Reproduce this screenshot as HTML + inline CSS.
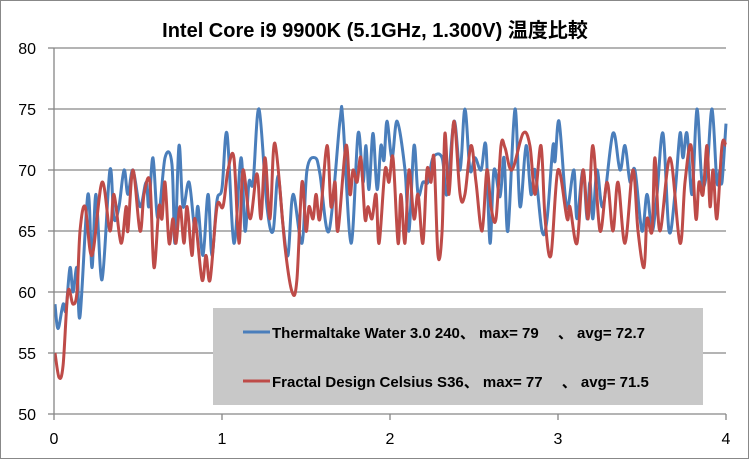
<!DOCTYPE html>
<html><head><meta charset="utf-8">
<style>
html,body{margin:0;padding:0;background:#fff;}
svg{display:block;font-family:"Liberation Sans","Noto Sans CJK JP",sans-serif;}
</style></head>
<body>
<svg id="chart" width="749" height="459" viewBox="0 0 749 459" xmlns="http://www.w3.org/2000/svg">
<rect x="0.5" y="0.5" width="748" height="458" fill="#fff" stroke="#888" stroke-width="1"/>
<text x="375" y="37" text-anchor="middle" font-size="20" font-weight="bold" fill="#000">Intel Core i9 9900K (5.1GHz, 1.300V) 温度比較</text>
<g id="grid"></g>
<g id="series"></g>
<g id="axes"></g>
<g>
<rect x="213" y="308" width="490" height="97" fill="#c8c8c8"/>
<line x1="243" y1="332" x2="270" y2="332" stroke="#4a7ebb" stroke-width="3"/>
<text x="272" y="338" font-size="15" font-weight="bold" fill="#000">Thermaltake Water 3.0 240、 max= 79 　、 avg= 72.7</text>
<line x1="243" y1="381" x2="270" y2="381" stroke="#be4b48" stroke-width="3"/>
<text x="272" y="387" font-size="15" font-weight="bold" fill="#000">Fractal Design Celsius S36、 max= 77 　、 avg= 71.5</text>
</g>
</svg>
<script>
const yTicks = [50,55,60,65,70,75,80];
const xTicks = [0,1,2,3,4];
const blueSeries = [[0.006,59],[0.024,57],[0.054,59],[0.071,58.5],[0.095,62],[0.113,60],[0.137,62],[0.155,58],[0.202,68],[0.226,62],[0.25,68],[0.286,61],[0.333,70],[0.357,66],[0.387,67],[0.417,70],[0.44,68],[0.47,70],[0.512,67],[0.548,69],[0.565,67],[0.589,71],[0.619,66],[0.661,71],[0.702,70.5],[0.72,64],[0.744,72],[0.768,67],[0.804,69],[0.839,65],[0.857,67],[0.887,63],[0.917,68],[0.94,63],[0.97,67.5],[1.0,68.5],[1.03,73],[1.071,64],[1.113,71],[1.137,65],[1.161,69],[1.185,69],[1.22,75],[1.268,67],[1.304,65],[1.333,69.5],[1.363,65.5],[1.393,63],[1.423,68],[1.476,64],[1.506,70],[1.554,71],[1.583,69.7],[1.637,65],[1.702,74],[1.72,74],[1.768,64],[1.81,73],[1.839,69],[1.857,72],[1.875,68.4],[1.899,73],[1.923,68.4],[1.946,72],[1.964,70.8],[1.982,74],[2.012,71],[2.042,74],[2.089,70],[2.113,65],[2.143,72],[2.167,68],[2.196,69],[2.226,69],[2.256,71],[2.31,71],[2.339,68],[2.381,74],[2.417,70],[2.446,75],[2.476,70],[2.506,71],[2.542,70],[2.571,72],[2.595,64],[2.619,70],[2.655,67.8],[2.679,71],[2.702,65],[2.744,75],[2.774,67],[2.81,72],[2.839,68],[2.863,70],[2.905,65],[2.935,66],[2.97,72],[2.982,70.7],[3.006,74],[3.042,68],[3.06,67],[3.095,70],[3.113,66],[3.149,70],[3.173,66],[3.19,69],[3.208,66],[3.232,70],[3.268,67],[3.327,73],[3.369,70],[3.399,72],[3.429,69],[3.458,70],[3.5,65],[3.53,68],[3.56,65],[3.589,68],[3.625,73],[3.661,65],[3.696,68],[3.726,73],[3.744,71],[3.768,73],[3.798,68],[3.827,75],[3.857,69],[3.887,70],[3.917,75],[3.946,69],[3.964,70],[3.976,69],[4.0,73.8]];
const redSeries = [[0.006,55],[0.03,53],[0.054,54],[0.083,60],[0.113,59],[0.137,60],[0.155,65],[0.185,67],[0.226,63],[0.286,69],[0.333,65],[0.357,68],[0.399,64],[0.429,67],[0.44,65],[0.47,70],[0.512,65],[0.536,68],[0.571,69],[0.595,62],[0.625,67],[0.643,66],[0.661,69],[0.685,64],[0.708,66],[0.726,64],[0.75,67],[0.774,64],[0.792,67],[0.821,63],[0.839,66],[0.881,61],[0.905,63],[0.929,61],[0.97,67],[1.006,67],[1.036,70],[1.071,71],[1.101,64],[1.125,70],[1.167,66],[1.208,69.7],[1.232,66],[1.256,71],[1.286,66],[1.315,72.2],[1.375,63.7],[1.417,60],[1.446,61],[1.476,69],[1.5,65],[1.518,67],[1.542,66],[1.56,68],[1.583,66],[1.625,72],[1.649,67],[1.673,69],[1.69,65],[1.738,72],[1.762,68],[1.78,70],[1.804,69],[1.827,71],[1.851,66],[1.869,67],[1.893,66],[1.917,68],[1.935,64],[1.97,70],[1.994,69],[2.018,71],[2.048,64],[2.065,68],[2.089,64],[2.113,70],[2.143,66],[2.167,68],[2.196,64],[2.22,70],[2.244,69],[2.262,71],[2.286,63],[2.31,65],[2.327,73],[2.351,68],[2.381,74],[2.417,68],[2.446,68],[2.482,72],[2.512,69],[2.548,65],[2.577,70],[2.601,67],[2.631,66],[2.661,72],[2.685,71.8],[2.726,70],[2.792,73],[2.833,72],[2.863,68],[2.899,72],[2.923,66],[2.958,63],[3.0,70],[3.054,66],[3.071,67],[3.113,64],[3.149,70],[3.179,66],[3.208,72],[3.25,65],[3.292,69],[3.327,65],[3.357,69],[3.399,64],[3.446,70],[3.476,65],[3.512,62],[3.53,66],[3.56,65],[3.577,71],[3.607,65],[3.667,71],[3.726,64],[3.756,69],[3.792,72],[3.821,66],[3.839,69],[3.863,68],[3.887,72],[3.905,67],[3.923,70],[3.946,66],[3.976,72],[4.0,72]];

const NS = "http://www.w3.org/2000/svg";
const X0 = 54, X1 = 726, Y0 = 414, Y1 = 48;
function xScale(v){ return X0 + (v - 0) / (4 - 0) * (X1 - X0); }
function yScale(v){ return Y0 - (v - 50) / (80 - 50) * (Y0 - Y1); }

const grid = document.getElementById('grid');
const axes = document.getElementById('axes');
const seriesG = document.getElementById('series');

yTicks.forEach(function(t){
  const y = yScale(t);
  if (t > 50) {
    const l = document.createElementNS(NS,'line');
    
    
    l.setAttribute('x1', X0); l.setAttribute('x2', X1);
    l.setAttribute('y1', y); l.setAttribute('y2', y);
    l.setAttribute('stroke', '#868686'); l.setAttribute('stroke-width', '1.3');
    grid.appendChild(l);
  }
  const tk = document.createElementNS(NS,'line');
  
  
  tk.setAttribute('x1', X0 - 6); tk.setAttribute('x2', X0);
  tk.setAttribute('y1', y); tk.setAttribute('y2', y);
  tk.setAttribute('stroke', '#868686'); tk.setAttribute('stroke-width', '1.3');
  axes.appendChild(tk);
  const tx = document.createElementNS(NS,'text');
  
  
  tx.setAttribute('x', 36); tx.setAttribute('y', y + 6);
  tx.setAttribute('text-anchor', 'end');
  tx.setAttribute('font-size', '16');
  tx.textContent = t;
  axes.appendChild(tx);
});

xTicks.forEach(function(t){
  const x = xScale(t);
  const tk = document.createElementNS(NS,'line');
  
  
  tk.setAttribute('x1', x); tk.setAttribute('x2', x);
  tk.setAttribute('y1', Y0); tk.setAttribute('y2', Y0 + 6);
  tk.setAttribute('stroke', '#868686'); tk.setAttribute('stroke-width', '1.3');
  axes.appendChild(tk);
  const tx = document.createElementNS(NS,'text');
  
  
  tx.setAttribute('x', x); tx.setAttribute('y', Y0 + 30);
  tx.setAttribute('text-anchor', 'middle');
  tx.setAttribute('font-size', '16');
  tx.textContent = t;
  axes.appendChild(tx);
});

const yAxis = document.createElementNS(NS,'line');


yAxis.setAttribute('x1', X0); yAxis.setAttribute('x2', X0);
yAxis.setAttribute('y1', Y1); yAxis.setAttribute('y2', Y0);
yAxis.setAttribute('stroke', '#868686'); yAxis.setAttribute('stroke-width', '1.3');
axes.appendChild(yAxis);
const xAxis = document.createElementNS(NS,'line');


xAxis.setAttribute('x1', X0); xAxis.setAttribute('x2', X1);
xAxis.setAttribute('y1', Y0); xAxis.setAttribute('y2', Y0);
xAxis.setAttribute('stroke', '#868686'); xAxis.setAttribute('stroke-width', '1.3');
axes.appendChild(xAxis);

function smoothPath(pts){
  const p = pts.map(function(d){ return [xScale(d[0]), yScale(d[1])]; });
  let d = 'M' + p[0][0].toFixed(1) + ',' + p[0][1].toFixed(1);
  for (let i = 0; i < p.length - 1; i++){
    const p0 = p[i-1] || p[i], p1 = p[i], p2 = p[i+1], p3 = p[i+2] || p2;
    const t = 0.17;
    const c1x = p1[0] + (p2[0]-p0[0])*t, c1y = p1[1] + (p2[1]-p0[1])*t;
    const c2x = p2[0] - (p3[0]-p1[0])*t, c2y = p2[1] - (p3[1]-p1[1])*t;
    d += ' C' + c1x.toFixed(1) + ',' + c1y.toFixed(1) + ' ' + c2x.toFixed(1) + ',' + c2y.toFixed(1) + ' ' + p2[0].toFixed(1) + ',' + p2[1].toFixed(1);
  }
  return d;
}

const blueLine = document.createElementNS(NS,'path');


blueLine.setAttribute('d', smoothPath(blueSeries));
blueLine.setAttribute('fill', 'none');
blueLine.setAttribute('stroke', '#4a7ebb');
blueLine.setAttribute('stroke-width', '3');
blueLine.setAttribute('stroke-linejoin', 'round');
seriesG.appendChild(blueLine);

const redLine = document.createElementNS(NS,'path');


redLine.setAttribute('d', smoothPath(redSeries));
redLine.setAttribute('fill', 'none');
redLine.setAttribute('stroke', '#be4b48');
redLine.setAttribute('stroke-width', '3');
redLine.setAttribute('stroke-linejoin', 'round');
seriesG.appendChild(redLine);
</script>
</body></html>
